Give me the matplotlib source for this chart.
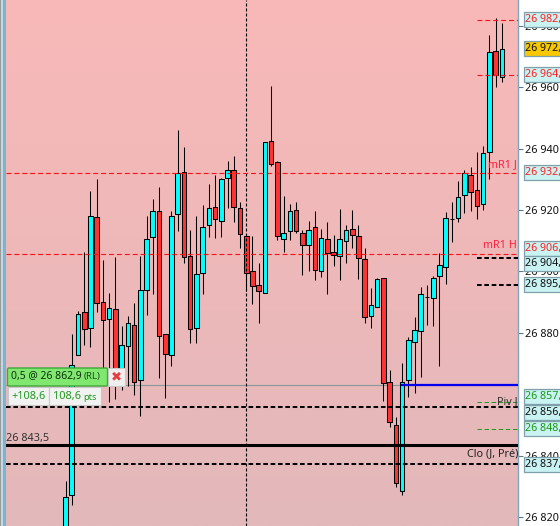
import numpy as np
import matplotlib
matplotlib.use("Agg")
import matplotlib.pyplot as plt
from matplotlib.patches import Rectangle, FancyBboxPatch
from matplotlib.colors import LinearSegmentedColormap

plt.rcParams["font.family"] = ["Noto Sans", "DejaVu Sans"]

W, H = 560, 526
AX_LEFT, AX_RIGHT = 6, 518

opens = [26795.0, 26827.2, 26872.8, 26886.8, 26881.6, 26917.7, 26890.0, 26884.5, 26887.8, 26867.2, 26875.7, 26882.5, 26864.6, 26893.9, 26911.2, 26919.7, 26879.6, 26872.8,
         26918.7, 26932.4, 26905.0, 26881.6, 26899.5, 26915.1, 26921.0, 26916.4, 26930.4, 26933.0, 26920.7, 26911.5, 26900.1, 26895.6, 26893.0, 26942.5, 26935.6, 26910.6,
         26913.2, 26920.0, 26912.5, 26908.6, 26914.5, 26900.1, 26910.6, 26906.3, 26905.0, 26909.9, 26913.8, 26911.5, 26904.0, 26885.5, 26888.4, 26897.9, 26864.0, 26850.0,
         26828.5, 26864.6, 26877.0, 26880.6, 26891.5, 26891.3, 26898.5, 26901.4, 26917.1, 26917.4, 26924.9, 26931.4, 26926.5, 26922.0, 26938.9, 26971.8, 26963.3]
highs = [26831.7, 26879.6, 26887.1, 26906.3, 26926.2, 26930.1, 26903.7, 26893.0, 26904.7, 26882.2, 26885.5, 26889.7, 26905.0, 26918.0, 26923.6, 26927.5, 26879.6, 26919.7,
         26946.1, 26940.5, 26913.5, 26918.0, 26921.6, 26928.5, 26931.4, 26930.4, 26936.0, 26937.6, 26922.6, 26911.5, 26911.5, 26902.7, 26942.2, 26960.4, 26936.0, 26924.6,
         26922.0, 26922.6, 26913.5, 26916.4, 26919.7, 26913.8, 26916.1, 26911.9, 26920.3, 26915.1, 26920.0, 26915.1, 26907.6, 26894.6, 26897.9, 26897.9, 26867.9, 26852.6,
         26870.2, 26878.6, 26885.2, 26894.9, 26895.6, 26898.5, 26906.0, 26919.4, 26922.6, 26929.4, 26933.0, 26934.0, 26938.9, 26940.8, 26977.0, 26982.5, 26980.9]
lows = [26795.0, 26823.9, 26872.8, 26876.0, 26875.4, 26886.8, 26867.2, 26857.5, 26858.4, 26861.4, 26862.7, 26859.7, 26852.9, 26885.8, 26892.6, 26865.3, 26858.8, 26869.2,
        26913.2, 26902.7, 26876.7, 26876.7, 26892.6, 26911.2, 26910.9, 26911.2, 26920.7, 26916.1, 26907.6, 26893.6, 26889.4, 26883.2, 26893.0, 26934.3, 26910.2, 26906.3,
        26910.2, 26912.5, 26898.8, 26900.1, 26897.2, 26898.2, 26892.6, 26901.8, 26897.2, 26902.7, 26907.6, 26897.5, 26883.2, 26881.6, 26888.4, 26857.8, 26849.3, 26829.8,
        26827.2, 26859.1, 26860.4, 26865.6, 26882.5, 26882.2, 26869.2, 26895.9, 26909.6, 26916.1, 26919.0, 26919.7, 26917.1, 26920.0, 26930.1, 26960.1, 26961.7]
closes = [26826.5, 26869.5, 26886.1, 26881.2, 26918.0, 26889.7, 26884.2, 26888.1, 26865.3, 26876.0, 26883.2, 26864.0, 26893.9, 26910.6, 26919.7, 26879.0, 26873.1, 26918.0,
          26932.1, 26904.7, 26881.2, 26899.2, 26914.5, 26920.7, 26917.1, 26930.1, 26933.0, 26921.0, 26912.2, 26899.5, 26895.2, 26893.6, 26942.2, 26935.0, 26911.5, 26912.5,
          26919.7, 26913.2, 26908.6, 26913.5, 26900.5, 26910.9, 26906.0, 26905.3, 26910.6, 26913.5, 26911.9, 26904.4, 26885.1, 26889.1, 26897.5, 26863.7, 26850.9, 26831.1,
          26864.0, 26877.7, 26880.9, 26892.6, 26891.7, 26897.9, 26902.1, 26917.4, 26917.2, 26924.2, 26932.1, 26925.9, 26921.3, 26938.6, 26971.5, 26964.0, 26972.4]

# niveaux horizontaux
full_dashed_black = [26855.8, 26837.3]
solid_black = 26843.3
position_price = 26862.9
red_full = [26932.2, 26905.6]
red_short = [26981.9, 26964.1]
green_short = [26857.4, 26848.7]
black_short = [26904.5, 26895.6]

tick_prices = [26980, 26960, 26940, 26920, 26900, 26880, 26840, 26820]
tick_labels = ["26 980", "26 960", "26 940", "26 920", "26 900", "26 880", "26 840", "26 820"]

price_tags = [
    ("26 982,", 26982.0, "#ff2020"),
    ("26 964,", 26964.1, "#ff2020"),
    ("26 932,", 26932.2, "#ff2020"),
    ("26 906,", 26907.6, "#ff2020"),
    ("26 904,", 26902.6, "#101010"),
    ("26 895,", 26895.6, "#101010"),
    ("26 857,", 26859.1, "#1a9a10"),
    ("26 856,", 26854.2, "#101010"),
    ("26 848,", 26848.7, "#1a9a10"),
    ("26 837,", 26837.1, "#101010"),
]

x = np.arange(len(opens))
opens_a, highs_a, lows_a, closes_a = map(np.array, (opens, highs, lows, closes))

fig = plt.figure(figsize=(W / 100, H / 100), dpi=100, facecolor="white")
ax = fig.add_axes([AX_LEFT / W, 0, (AX_RIGHT - AX_LEFT) / W, 1])

cmap = LinearSegmentedColormap.from_list("bg", ["#f9b8b8", "#e3b9bb"])
ax.imshow(np.linspace(0, 1, 256).reshape(-1, 1), cmap=cmap, aspect="auto",
          extent=(0, 1, 0, 1), transform=ax.transAxes, zorder=0)

# 65.5 px pour la bougie 0, 6.233 px entre bougies
ax.set_xlim((AX_LEFT - 65.5) / 6.233, (AX_RIGHT - 65.5) / 6.233)
ax.set_ylim(26820 - 9 / 3.07, 26820 + 517 / 3.07)

# lignes derriere les bougies
ax.axhline(position_price, color="#8a9a9a", lw=0.8, zorder=1)
ax.axvline(29, color="black", lw=0.8, dashes=(2.7, 1.8), zorder=4)

# bougies
colors = np.where(closes_a >= opens_a, "#00ffff", "#ff3333")
ax.vlines(x, lows_a, highs_a, color="black", lw=0.75, zorder=2)
ax.bar(x, np.abs(closes_a - opens_a), bottom=np.minimum(opens_a, closes_a), width=0.74,
       color=colors, edgecolor="black", linewidth=0.75, zorder=3)

# niveaux
for y in full_dashed_black:
    ax.axhline(y, color="black", lw=1.45, dashes=(2.3, 1.35), zorder=5)
ax.axhline(solid_black, color="black", lw=2.2, zorder=5)
for y in red_full:
    ax.axhline(y, color="#ff1010", lw=0.8, dashes=(4.4, 2.7), zorder=5)


def fx(px):
    return (px - AX_LEFT) / (AX_RIGHT - AX_LEFT)


trans = ax.get_yaxis_transform()
for y in red_short:
    ax.plot([fx(477), 1], [y, y], transform=trans, color="#ff1010", lw=0.8, dashes=(4.4, 2.7), zorder=5)
for y in green_short:
    ax.plot([fx(477), 1], [y, y], transform=trans, color="#1f9a1f", lw=0.72, dashes=(4.4, 2.7), zorder=5)
for y in black_short:
    ax.plot([fx(477), 1], [y, y], transform=trans, color="black", lw=1.45, dashes=(2.3, 1.35), zorder=5)
ax.plot([fx(402), 1], [position_price, position_price], transform=trans, color="#0000ee", lw=1.6, zorder=6)

# textes dans le graphique
ax.text(fx(517), 26932.2 + 0.9, "mR1 J", transform=trans, color="#ff2040", fontsize=7.8, ha="right", va="bottom", zorder=7)
ax.text(fx(517), 26905.6 + 0.9, "mR1 H", transform=trans, color="#ff2040", fontsize=7.8, ha="right", va="bottom", zorder=7)
ax.text(fx(518), 26855.9, "Piv J", transform=trans, color="#333333", fontsize=7.8, ha="right", va="bottom", zorder=7)
ax.text(fx(518), 26838.8, "Clo (J, Pré)", transform=trans, color="#222222", fontsize=7.8, ha="right", va="bottom", zorder=7)
ax.text(fx(6), 26843.9, "26 843,5", transform=trans, color="#333333", fontsize=7.8, ha="left", va="bottom", zorder=7)

# axe de droite
ax.set_xticks([])
ax.set_yticks(tick_prices)
ax.set_yticklabels(tick_labels, fontsize=7.8, color="#101010")
ax.yaxis.tick_right()
ax.tick_params(axis="y", length=3.5, width=0.8, color="#5a7a8a", pad=1.5)
for s in ["left", "top", "bottom"]:
    ax.spines[s].set_visible(False)
ax.spines["right"].set_color("#7fa6ba")
ax.spines["right"].set_linewidth(1.0)

# etiquettes de prix, dans un axe au-dessus pour couvrir les graduations
tags = fig.add_axes([0, 0, 1, 1], facecolor="none")
tags.set_xlim(0, W)
tags.set_ylim(ax.get_ylim())
tags.axis("off")
box_h = 15 / 3.07
for label, y, col in price_tags:
    tags.add_patch(Rectangle((523.5, y - box_h / 2), 42, box_h, facecolor="#c9f2f2", edgecolor="#7fa0aa", lw=0.9))
    tags.text(525, y, label, color=col, fontsize=7.7, va="center", ha="left")
cur_y = 26972.5
tags.add_patch(Rectangle((523.5, cur_y - box_h / 2), 42, box_h, facecolor="#f8c800", edgecolor="#7fa0aa", lw=0.9))
tags.text(525, cur_y, "26 972,", color="#101010", fontsize=7.7, va="center", ha="left")

# ordre (widget) et cadre gauche, en pixels
ov = fig.add_axes([0, 0, 1, 1], facecolor="none")
ov.set_xlim(0, W)
ov.set_ylim(H, 0)
ov.axis("off")
ov.add_patch(Rectangle((0, 0), 1.2, H, facecolor="#9a9a9a", lw=0))
ov.add_patch(Rectangle((1.2, 0), 2.2, H, facecolor="#b9dbe8", lw=0))
ov.add_patch(Rectangle((3.4, 0), 2.6, H, facecolor="#7fb2cc", lw=0))

ov.add_patch(FancyBboxPatch((7.5, 368), 100, 18, boxstyle="round,pad=0,rounding_size=1.5",
                            facecolor="#80e86e", edgecolor="#3da83a", lw=1))
ov.add_patch(Rectangle((108, 368), 17, 18, facecolor="#efefef", edgecolor="#c8c8c8", lw=0.8))
ov.text(11, 377, "0,5 @ 26 862,9", fontsize=7.5, fontweight="bold", color="#103010", va="center", ha="left")
ov.text(84, 376.5, "(RL)", fontsize=7.0, color="#205020", va="center", ha="left")
ov.text(116.5, 377, "✖", fontsize=9.5, color="#e83c3c", family="DejaVu Sans", va="center", ha="center")
ov.add_patch(Rectangle((7.5, 387), 41, 18, facecolor="#f2f2f2", edgecolor="#c8c8c8", lw=0.8))
ov.add_patch(Rectangle((48.5, 387), 52, 18, facecolor="#f2f2f2", edgecolor="#c8c8c8", lw=0.8))
ov.text(11, 396, "+108,6", fontsize=7.9, fontweight="bold", color="#1f9a1f", va="center", ha="left")
ov.text(53, 396, "108,6", fontsize=7.9, fontweight="bold", color="#1f9a1f", va="center", ha="left")
ov.text(83, 397, "pts", fontsize=6.6, color="#1f9a1f", va="center", ha="left")

fig.savefig("out.png", dpi=100, facecolor="white")
